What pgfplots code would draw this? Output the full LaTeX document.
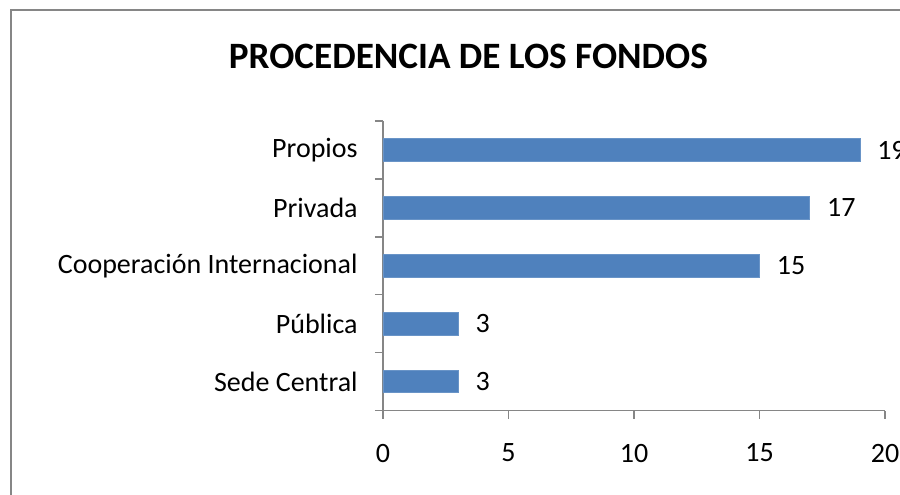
\documentclass[border=0pt]{standalone}
\usepackage{fontspec}
\setmainfont{Carlito}
\usepackage{pgfplots}
\pgfplotsset{compat=1.18}
\definecolor{barblue}{HTML}{4F81BD}
\definecolor{axgray}{HTML}{868686}
\begin{document}
\begin{tikzpicture}
\useasboundingbox (0,0) rectangle (450pt,247pt);
\clip (0,0) rectangle (450pt,247pt);
\draw[axgray, line width=1pt] (5.25pt,-20pt) -- (5.25pt,241.75pt) -- (480pt,241.75pt);
\node[font=\fontsize{18.6}{22}\selectfont\bfseries, inner sep=0pt] at (234.2pt,219pt) {PROCEDENCIA DE LOS FONDOS};
\begin{axis}[
  at={(191.5pt,41.75pt)}, anchor=south west,
  scale only axis, width=251pt, height=144.75pt,
  xbar, bar width=11.25pt,
  xmin=0, xmax=20, ymin=-0.5, ymax=4.5,
  axis lines*=left,
  axis line style={axgray, line width=0.75pt},
  xtick={0,5,10,15,20},
  ytick={0,1,2,3,4},
  yticklabels={Sede Central,Pública,Cooperación Internacional,Privada,Propios},
  minor ytick={-0.5,0.5,1.5,2.5,3.5,4.5},
  tick align=outside,
  major tick length=4pt,
  minor tick length=4pt,
  y tick style={draw=none},
  minor y tick style={draw=axgray, line width=0.75pt},
  x tick style={axgray, line width=0.75pt},
  tick label style={font=\fontsize{14}{16}\selectfont, text=black},
  yticklabel style={anchor=east, inner sep=0pt, xshift=-8.5pt},
  xticklabel style={anchor=north, inner sep=0pt, yshift=-12.5pt},
  /pgf/number format/assume math mode=true,
  nodes near coords,
  every node near coord/.append style={font=\fontsize{14}{16}\selectfont, text=black, anchor=west, inner sep=0pt, xshift=8.5pt},
  clip=false,
]
\addplot[fill=barblue, draw=barblue!85!white, line width=0.4pt] coordinates {
  (3,0) (3,1) (15,2) (17,3) (19,4)
};
\end{axis}
\end{tikzpicture}
\end{document}
